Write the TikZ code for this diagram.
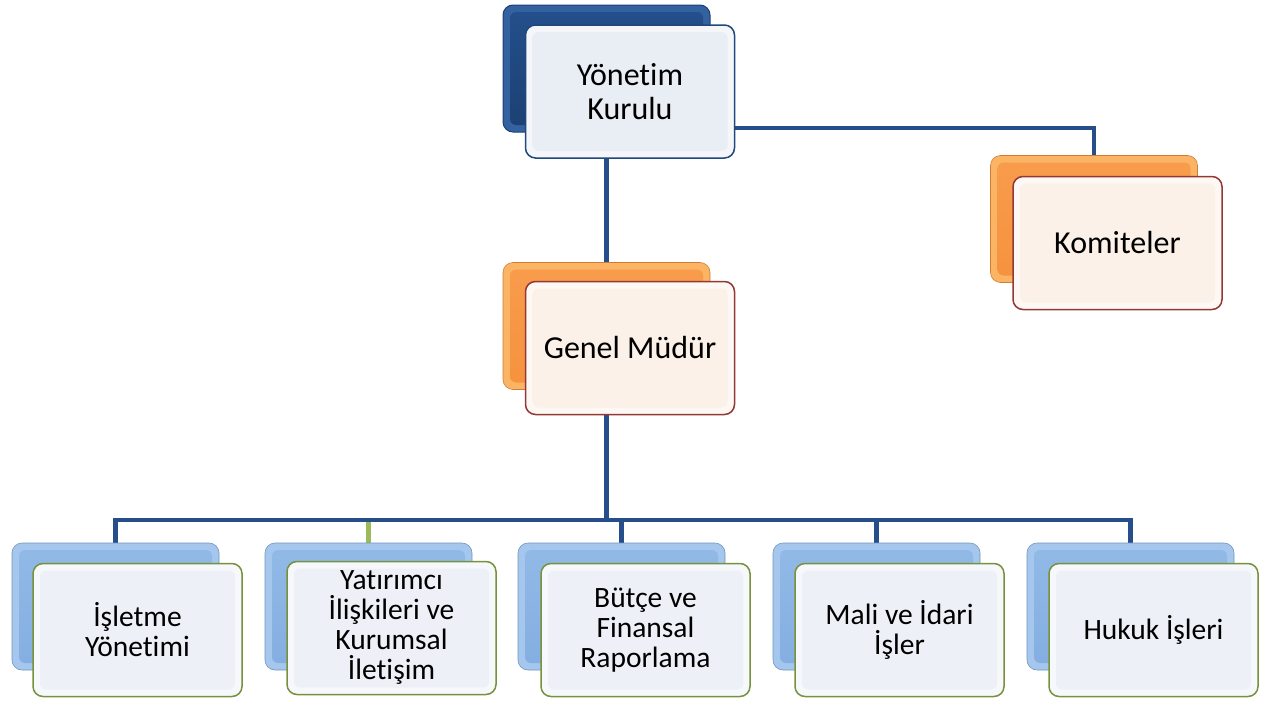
\documentclass[tikz,border=0pt]{standalone}
\usepackage{fontspec}
\setmainfont{Carlito}[Ligatures=NoCommon]
\usetikzlibrary{backgrounds}
\definecolor{lineblue}{RGB}{38,78,138}
\definecolor{linegreen}{RGB}{155,187,89}
\definecolor{navyRim}{RGB}{52,98,160}
\definecolor{navyT}{RGB}{36,80,140}
\definecolor{navyB}{RGB}{28,64,114}
\definecolor{oranRim}{RGB}{251,180,100}
\definecolor{oranT}{RGB}{248,156,76}
\definecolor{oranB}{RGB}{245,146,62}
\definecolor{lblueRim}{RGB}{165,199,237}
\definecolor{lblueT}{RGB}{146,186,231}
\definecolor{lblueB}{RGB}{132,174,225}
\definecolor{navyEdge}{RGB}{31,73,125}
\definecolor{redEdge}{RGB}{149,55,53}
\definecolor{greenEdge}{RGB}{118,146,60}
\definecolor{frontBlueRim}{RGB}{244,246,250}
\definecolor{frontBlue}{RGB}{233,237,244}
\definecolor{frontOranRim}{RGB}{253,248,243}
\definecolor{frontOran}{RGB}{251,241,232}
\definecolor{frontLightRim}{RGB}{246,248,251}
\definecolor{frontLight}{RGB}{237,241,247}
\tikzset{
  conn/.style={draw=lineblue, line width=4.5pt},
  greenconn/.style={draw=linegreen, line width=4.5pt},
  inset/.style 2 args={path picture={
     \fill[rounded corners=6pt, top color=#1, bottom color=#2]
       ([xshift=7pt,yshift=-7pt]path picture bounding box.north west)
       rectangle ([xshift=-7pt,yshift=7pt]path picture bounding box.south east);}},
  backbox/.style={rounded corners=10pt, minimum width=207pt, minimum height=127pt, inner sep=0pt},
  navyback/.style={backbox, fill=navyRim, draw=navyB, line width=1pt, inset={navyT}{navyB}},
  oranback/.style={backbox, fill=oranRim, draw=oranB!85!black, line width=0.6pt, inset={oranT}{oranB}},
  lblueback/.style={backbox, fill=lblueRim, draw=lblueB!85!black, line width=0.6pt, inset={lblueT}{lblueB}},
  frontbox/.style={rounded corners=10pt, minimum width=209pt, minimum height=133pt, inner sep=0pt,
     line width=1.5pt, align=center, text=black},
  frontnavy/.style={frontbox, draw=navyEdge, fill=frontBlueRim, inset={frontBlue}{frontBlue},
     font=\fontsize{32}{34}\selectfont},
  frontoran/.style={frontbox, draw=redEdge, fill=frontOranRim, inset={frontOran}{frontOran},
     font=\fontsize{32}{34}\selectfont},
  frontgreen/.style={frontbox, draw=greenEdge, fill=frontLightRim, inset={frontLight}{frontLight},
     font=\fontsize{29.5}{30}\selectfont},
}
\begin{document}
\begin{tikzpicture}[x=1pt,y=-1pt]
\useasboundingbox (0,0) rectangle (1270,704);
% back boxes
\node[navyback] (ykB) at (606.5,68.5) {};
\node[oranback] (gmB) at (606.5,326) {};
\node[oranback] (komB) at (1094,219) {};
\node[lblueback] (b1B) at (115.5,606.5) {};
\node[lblueback] (b2B) at (368.5,606.5) {};
\node[lblueback] (b3B) at (621.5,606.5) {};
\node[lblueback] (b4B) at (876.5,606.5) {};
\node[lblueback] (b5B) at (1130.5,606.5) {};
% connectors (behind boxes)
\coordinate (j1) at (606.5,128);
\coordinate (bus) at (606.5,520);
\begin{scope}[on background layer]
\draw[conn] (ykB.center) -- (gmB.center);
\draw[conn] (j1) -| (komB.center);
\draw[conn] (gmB.center) -- (bus);
\draw[conn] (bus) -| (b1B.center);
\draw[conn] (bus) -| (b5B.center);
\draw[conn] (bus) -| (b3B.center);
\draw[conn] (bus) -| (b4B.center);
\draw[greenconn] (b2B.center |- bus) ++(0,2.25) -- (b2B.center);
\end{scope}
% front boxes with text
\node[frontnavy] (yk) at (630,91.5) {Yönetim\\Kurulu};
\node[frontoran] (gm) at (630,348) {Genel Müdür};
\node[frontoran] (kom) at (1117.5,243) {Komiteler};
\node[frontgreen] (b1) at (137.5,630) {İşletme\\Yönetimi};
\node[frontgreen] (b2) at (391.5,628) {Yatırımcı\\İlişkileri ve\\Kurumsal\\İletişim};
\node[frontgreen] (b3) at (645.5,630) {Bütçe ve\\Finansal\\Raporlama};
\node[frontgreen] (b4) at (899.5,630) {Mali ve İdari\\İşler};
\node[frontgreen] (b5) at (1153.5,630) {Hukuk İşleri};
\end{tikzpicture}
\end{document}
